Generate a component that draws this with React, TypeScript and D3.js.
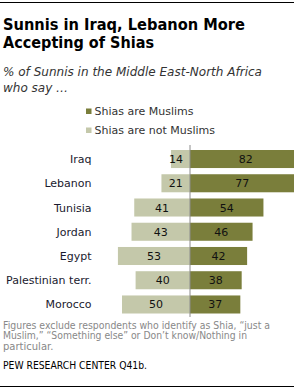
import React from "react";
import * as d3 from "d3";

const categories = ["Iraq", "Lebanon", "Tunisia", "Jordan", "Egypt", "Palestinian terr.", "Morocco"];
const areMuslims = [82, 77, 54, 46, 42, 38, 37];
const notMuslims = [14, 21, 41, 43, 53, 40, 50];
const seriesNames = ["Shias are Muslims", "Shias are not Muslims"];
const titleLines = ["Sunnis in Iraq, Lebanon More", "Accepting of Shias"];
const subtitleLines = ["% of Sunnis in the Middle East-North Africa", "who say \u2026"];
const noteLines = [
  "Figures exclude respondents who identify as Shia, \u201cjust a",
  "Muslim,\u201d \u201cSomething else\u201d or Don\u2019t know/Nothing in",
  "particular.",
];
const sourceText = "PEW RESEARCH  CENTER Q41b.";

const W = 294;
const H = 389;
const DARK = "#7a7e3b";
const LIGHT = "#c4c8aa";
const FONT = "'DejaVu Sans', Verdana, sans-serif";

export default function App() {
  const cx = 190;
  const xR = d3.scaleLinear().domain([0, 100]).range([cx, cx + 136]);
  const xL = d3.scaleLinear().domain([0, 100]).range([cx, cx - 136]);
  const y = d3
    .scaleBand<string>()
    .domain(categories)
    .range([150, 313.5])
    .paddingInner(0.256)
    .paddingOuter(0);
  const bw = y.bandwidth();

  return (
    <svg
      width={W}
      height={H}
      style={{ position: "absolute", left: 0, top: 0, background: "#fff" }}
      fontFamily={FONT}
    >
      <line x1={0} x2={W} y1={2.5} y2={2.5} stroke="#000" strokeWidth={1} />
      <text
        fontFamily="'DejaVu Sans Condensed', 'DejaVu Sans', sans-serif"
        fontWeight="bold"
        fontSize={16}
        fill="#000"
      >
        <tspan x={3} y={30} textLength={242} lengthAdjust="spacingAndGlyphs">
          {titleLines[0]}
        </tspan>
        <tspan x={3} y={47.5} textLength={151} lengthAdjust="spacingAndGlyphs">
          {titleLines[1]}
        </tspan>
      </text>
      <text fontStyle="italic" fontSize={12} fill="#333">
        <tspan x={3} y={76} textLength={259} lengthAdjust="spacingAndGlyphs">
          {subtitleLines[0]}
        </tspan>
        <tspan x={3} y={92}>
          {subtitleLines[1]}
        </tspan>
      </text>

      {seriesNames.map((s, i) => (
        <g key={s}>
          <rect x={86} y={108.5 + i * 19} width={5.5} height={5.5} fill={i === 0 ? DARK : LIGHT} />
          <text x={94.5} y={114.5 + i * 19} fontSize={11} fill="#333">
            {s}
          </text>
        </g>
      ))}

      {categories.map((c, i) => {
        const yy = y(c)!;
        const r = areMuslims[i];
        const l = notMuslims[i];
        const lCenter = Math.min((xL(l) + cx) / 2, cx - 14);
        return (
          <g key={c}>
            <text x={91.5} y={yy + bw / 2 + 4} fontSize={11} textAnchor="end" fill="#1a1a2e">
              {c}
            </text>
            <rect x={xL(l)} y={yy} width={cx - xL(l)} height={bw} fill={LIGHT} />
            <rect x={cx} y={yy} width={xR(r) - cx} height={bw} fill={DARK} />
            <text x={lCenter} y={yy + bw / 2 + 4} fontSize={11} textAnchor="middle" fill="#111">
              {l}
            </text>
            <text x={(xR(r) + cx) / 2} y={yy + bw / 2 + 4} fontSize={11} textAnchor="middle" fill="#111">
              {r}
            </text>
          </g>
        );
      })}
      <line x1={cx} x2={cx} y1={145} y2={317} stroke="#8c8c8c" strokeWidth={1} />

      <text fontSize={10} fill="#888">
        {noteLines.map((t, i) => (
          <tspan key={i} x={3} y={328.5 + i * 10.5} textLength={i === 0 ? 267 : i === 1 ? 244 : undefined} lengthAdjust="spacingAndGlyphs">
            {t}
          </tspan>
        ))}
      </text>
      <text x={3} y={369} fontSize={10} fill="#000" textLength={144} lengthAdjust="spacingAndGlyphs">
        {sourceText}
      </text>
      <line x1={0} x2={W} y1={386.5} y2={386.5} stroke="#000" strokeWidth={1} />
    </svg>
  );
}
